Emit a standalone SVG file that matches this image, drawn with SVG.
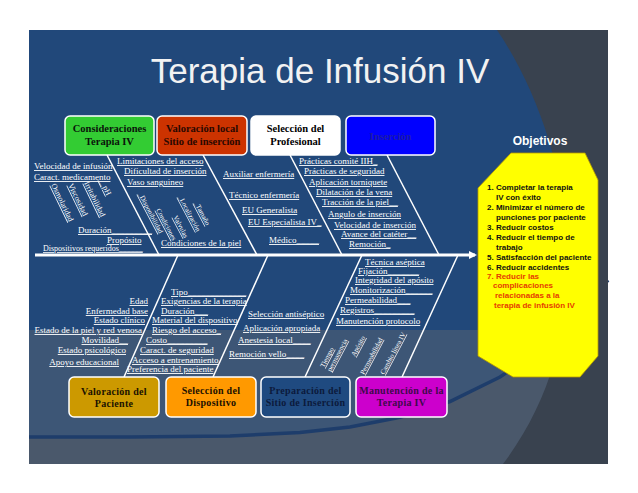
<svg xmlns="http://www.w3.org/2000/svg" width="638" height="493" viewBox="0 0 638 493">
<style>
.lbl{font-family:"Liberation Serif","Times New Roman",serif;font-size:9px;fill:#ffffff;text-decoration:underline}
.sm{font-size:8px}
.rot{font-size:7px}
.rot8{font-size:8px}
.end{text-anchor:end}
.box{stroke:#ffffff;stroke-width:1.5}
.bt{font-family:"Liberation Serif","Times New Roman",serif;font-weight:bold;font-size:10.5px;text-anchor:middle}
.bt2{font-family:"Liberation Serif","Times New Roman",serif;font-weight:bold;font-size:10px;text-anchor:middle;letter-spacing:0.3px}
.bone{stroke:#ffffff;stroke-width:1.5;fill:none}
.obj{font-family:"Liberation Sans",Arial,sans-serif;font-weight:bold;font-size:8px;fill:#111111}
.red{fill:#e63c00}
</style>
<defs>
<marker id="arr" markerWidth="8" markerHeight="8" refX="6" refY="4" orient="auto" markerUnits="userSpaceOnUse" viewBox="0 0 8 8">
<polygon points="0,0 8,4 0,8" fill="#ffffff"/>
</marker>
</defs>
<rect x="0" y="0" width="638" height="493" fill="#ffffff"/>
<g id="background">
<rect x="29" y="30" width="579" height="434" fill="#21487a"/>
<rect x="29" y="330" width="579" height="134" fill="#3d5676"/>
<path d="M29,437 L130,437 L230,436 L300,432.4 L350,427 L400,417.3 L450,401.5 L500,377 L540,350 L580,313 L608,280 L608,464 L29,464 Z" fill="#4a586b"/>
<path d="M29,437 L130,437 L230,436 L300,432.4 L350,427 L400,417.3 L450,401.5 L500,377 L540,350 L580,313 L608,280" fill="none" stroke="#1e3d6b" stroke-width="3.5"/>
<path d="M497,30 C565,130 612,320 503,464 L608,464 L608,30 Z" fill="#39424f"/>
</g>
<g id="title">
<text x="320" y="83" font-family="Liberation Sans, Arial, sans-serif" font-size="35" fill="#f2f2f2" text-anchor="middle">Terapia de Infusión IV</text>
</g>
<g id="connectors">
<line x1="35" y1="255" x2="475" y2="255" stroke="#ffffff" stroke-width="3" marker-end="url(#arr)"/>
<line class="bone" x1="107" y1="155" x2="159" y2="255"/>
<line class="bone" x1="203" y1="155" x2="257" y2="255"/>
<line class="bone" x1="290" y1="155" x2="342" y2="255"/>
<line class="bone" x1="387" y1="155" x2="439" y2="255"/>
<line class="bone" x1="124" y1="377" x2="178" y2="255"/>
<line class="bone" x1="213" y1="377" x2="268" y2="255"/>
<line class="bone" x1="305" y1="377" x2="362" y2="255"/>
<line class="bone" x1="402" y1="377" x2="458" y2="255"/>
</g>
<g id="node-consideraciones">
<rect class="box" x="65" y="116" width="89" height="39" rx="5" fill="#33cc33"/>
<text class="bt" x="109.5" y="132" fill="#0a140a">Consideraciones</text>
<text class="bt" x="109.5" y="145" fill="#0a140a">Terapia IV</text>
</g>
<g id="node-valoracion-local">
<rect class="box" x="157" y="116" width="90" height="39" rx="5" fill="#cc3300"/>
<text class="bt" x="202" y="132" fill="#2a0800">Valoración local</text>
<text class="bt" x="202" y="145" fill="#2a0800">Sitio de inserción</text>
</g>
<g id="node-seleccion-profesional">
<rect class="box" x="251" y="116" width="89" height="39" rx="5" fill="#ffffff"/>
<text class="bt" x="295.5" y="132" fill="#000000">Selección del</text>
<text class="bt" x="295.5" y="145" fill="#000000">Profesional</text>
</g>
<g id="node-insercion">
<rect class="box" x="346" y="116" width="89" height="39" rx="5" fill="#0000ff"/>
<text class="bt" x="390.5" y="140" fill="#1c1ca8">Inserción</text>
</g>
<g id="node-valoracion-paciente">
<rect class="box" x="69" y="377" width="90" height="40" rx="5" fill="#cc9900"/>
<text class="bt2" x="114" y="395" fill="#1a1200">Valoración del</text>
<text class="bt2" x="114" y="407" fill="#1a1200">Paciente</text>
</g>
<g id="node-seleccion-dispositivo">
<rect class="box" x="166" y="377" width="90" height="40" rx="5" fill="#ff9900"/>
<text class="bt2" x="211" y="394" fill="#1a1000">Selección del</text>
<text class="bt2" x="211" y="406" fill="#1a1000">Dispositivo</text>
</g>
<g id="node-preparacion-sitio">
<rect class="box" x="261" y="377" width="89" height="40" rx="5" fill="#1f4a80"/>
<text class="bt2" x="305.5" y="394" fill="#0c1a3c">Preparación del</text>
<text class="bt2" x="305.5" y="406" fill="#0c1a3c">Sitio de Inserción</text>
</g>
<g id="node-manutencion">
<rect class="box" x="356" y="377" width="91" height="40" rx="5" fill="#cc00cc"/>
<text class="bt2" x="401.5" y="394" fill="#3d0a4a">Manutención de la</text>
<text class="bt2" x="401.5" y="406" fill="#3d0a4a">Terapia IV</text>
</g>
<g id="labels-consideraciones">
<text class="lbl" x="34" y="169">Velocidad de infusión</text>
<text class="lbl" x="34" y="180">Caract. medicamento</text>
<text class="lbl rot8" transform="translate(51,185) rotate(64)">Osmolaridad</text>
<text class="lbl rot8" transform="translate(68,185) rotate(64)">Viscosidad</text>
<text class="lbl rot8" transform="translate(84,183) rotate(64)">Irritabilidad</text>
<text class="lbl rot8" transform="translate(99,180) rotate(64)">__pH</text>
<text class="lbl" x="78" y="233">Duración_________</text>
<text class="lbl" x="107" y="243">Propósito</text>
<text class="lbl sm" x="43" y="251">Dispositivos requeridos______</text>
</g>
<g id="labels-valoracion-local">
<text class="lbl" x="117" y="164">Limitaciones del acceso</text>
<text class="lbl" x="124" y="174">Dificultad de inserción</text>
<text class="lbl" x="127" y="185">Vaso sanguineo</text>
<text class="lbl rot" transform="translate(138,194) rotate(62)">_Disponibilidad</text>
<text class="lbl rot" transform="translate(156,210) rotate(62)">Condiciones</text>
<text class="lbl rot" transform="translate(173,217) rotate(62)">Valvulas</text>
<text class="lbl rot" transform="translate(178,197) rotate(62)">_Localización</text>
<text class="lbl rot" transform="translate(194,203) rotate(62)">_Tamaño</text>
<text class="lbl" x="161" y="246">Condiciones de la piel</text>
</g>
<g id="labels-seleccion-profesional">
<text class="lbl" x="223" y="177">Auxiliar enfermería</text>
<text class="lbl" x="229" y="198">Técnico enfermería</text>
<text class="lbl" x="242" y="213">EU Generalista</text>
<text class="lbl" x="248" y="225">EU Especialista IV_</text>
<text class="lbl" x="269" y="243">Médico_____</text>
</g>
<g id="labels-insercion">
<text class="lbl" x="299" y="164">Prácticas comité IIH_</text>
<text class="lbl" x="304" y="174">Prácticas de seguridad</text>
<text class="lbl" x="309" y="185">Aplicación torniquete</text>
<text class="lbl" x="316" y="195">Dilatación de la vena</text>
<text class="lbl" x="322" y="205">Tracción de la piel__</text>
<text class="lbl" x="328" y="217">Angulo de inserción</text>
<text class="lbl" x="334" y="228">Velocidad de inserción</text>
<text class="lbl" x="341" y="237">Avance del catéter__</text>
<text class="lbl" x="349" y="247">Remoción_</text>
</g>
<g id="labels-valoracion-paciente">
<text class="lbl end" x="148" y="304">Edad</text>
<text class="lbl end" x="148" y="314">Enfermedad base</text>
<text class="lbl end" x="145" y="323">Estado clínico</text>
<text class="lbl end" x="142" y="333">Estado de la piel y red venosa</text>
<text class="lbl end" x="128" y="343">Movilidad__</text>
<text class="lbl end" x="126" y="353">Estado psicológico</text>
<text class="lbl end" x="119" y="365">Apoyo educacional</text>
</g>
<g id="labels-seleccion-dispositivo">
<text class="lbl" x="171" y="295">Tipo_____________</text>
<text class="lbl" x="161" y="304">Exigencias de la terapia</text>
<text class="lbl" x="161" y="314">Duración___</text>
<text class="lbl" x="152" y="323">Material del dispositivo</text>
<text class="lbl" x="152" y="333">Riesgo del acceso_</text>
<text class="lbl" x="146" y="343">Costo_________</text>
<text class="lbl" x="140" y="353">Caract. de seguridad</text>
<text class="lbl" x="132" y="363">Acceso a entrenamiento</text>
<text class="lbl" x="127" y="372">Preferencia del paciente</text>
</g>
<g id="labels-preparacion-sitio">
<text class="lbl" x="248" y="317">Selección antiséptico</text>
<text class="lbl" x="243" y="331">Aplicación apropiada</text>
<text class="lbl" x="238" y="343">Anestesia local____</text>
<text class="lbl" x="229" y="357">Remoción vello____</text>
</g>
<g id="labels-manutencion">
<text class="lbl" x="365" y="265">Técnica aséptica</text>
<text class="lbl" x="358" y="274">Fijación_______</text>
<text class="lbl" x="355" y="283">Integridad del apósito</text>
<text class="lbl" x="350" y="293">Monitorización______</text>
<text class="lbl" x="345" y="303">Permeabilidad___</text>
<text class="lbl" x="340" y="313">Registros_________</text>
<text class="lbl" x="336" y="324">Manutención protocolo</text>
<text class="lbl rot" transform="translate(324,368) rotate(-62)">Tiempo</text>
<text class="lbl rot" transform="translate(331,372) rotate(-62)">permanencia</text>
<text class="lbl rot" transform="translate(355,357) rotate(-62)">Apósito</text>
<text class="lbl rot" transform="translate(364,375) rotate(-62)">Permeabilidad</text>
<text class="lbl rot" transform="translate(384,375) rotate(-62)">Cambio línea IV</text>
</g>
<g id="node-objetivos">
<text x="540" y="145" font-family="Liberation Sans, Arial, sans-serif" font-weight="bold" font-size="12" fill="#ffffff" text-anchor="middle">Objetivos</text>
<polygon points="511,153 585,153 598,180 598,356 580,377 513,377 478,356 478,188" fill="#ffff00" stroke="#b89a00" stroke-width="0.8"/>
<text class="obj" x="487" y="190">1. Completar la terapia</text>
<text class="obj" x="496" y="200">IV con éxito</text>
<text class="obj" x="487" y="210">2. Minimizar el número de</text>
<text class="obj" x="496" y="220">punciones por paciente</text>
<text class="obj" x="487" y="230">3. Reducir costos</text>
<text class="obj" x="487" y="240">4. Reducir el tiempo de</text>
<text class="obj" x="496" y="250">trabajo</text>
<text class="obj" x="487" y="260">5. Satisfacción del  paciente</text>
<text class="obj" x="487" y="270">6. Reducir accidentes</text>
<text class="obj red" x="487" y="279">7. Reducir las</text>
<text class="obj red" x="493" y="288">complicaciones</text>
<text class="obj red" x="495" y="298">relacionadas a la</text>
<text class="obj red" x="494" y="308">terapia  de infusión IV</text>
</g>
</svg>
